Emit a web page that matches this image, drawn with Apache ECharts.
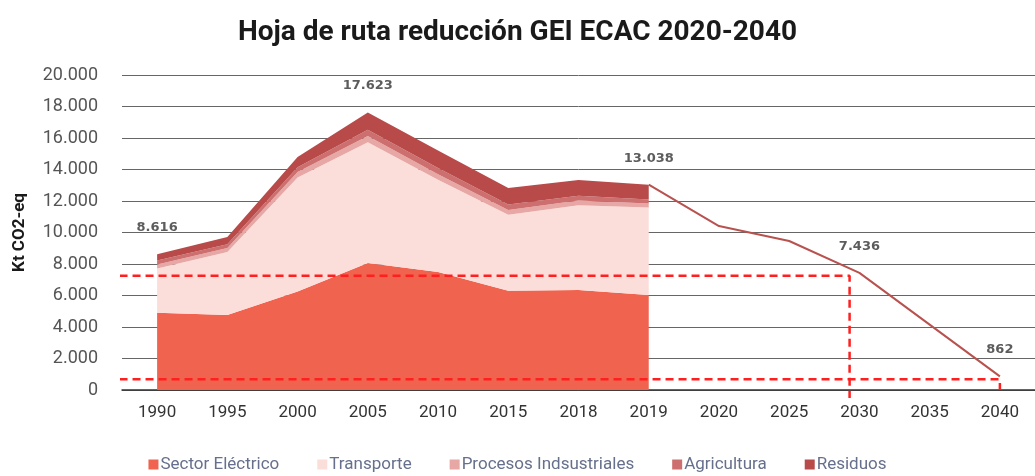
<!DOCTYPE html>
<html>
<head>
<meta charset="utf-8">
<script src="https://cdn.jsdelivr.net/npm/echarts@6/dist/echarts.min.js"></script>
<style>
  html, body { margin: 0; padding: 0; background: #fff; }
  #chart { width: 1035px; height: 476px; }
</style>
</head>
<body>
<div id="chart"></div>
<script>
// años del eje (espaciado uniforme, como en el original)
const years = ['1990', '1995', '2000', '2005', '2010', '2015', '2018', '2019', '2020', '2025', '2030', '2035', '2040'];

// emisiones históricas por sector (kt CO2-eq), 1990-2019
const electrico   = [4900, 4760, 6250, 8060, 7500, 6300, 6350, 6030];
const transporte  = [2816, 4000, 7240, 7663, 5850, 4830, 5380, 5558];
const procesos    = [250, 250, 350, 400, 350, 300, 300, 250];
const agricultura = [250, 250, 300, 400, 400, 350, 300, 250];
const residuos    = [400, 450, 650, 1100, 1100, 1050, 1000, 950];

// hoja de ruta 2019-2040
const proyeccion = ['-', '-', '-', '-', '-', '-', '-', 13038, 10410, 9460, 7436, 4150, 862];

// totales rotulados
const etiquetas = [8616, '-', '-', 17623, '-', '-', '-', 13038, '-', '-', 7436, '-', 862];

// líneas guía discontinuas (x en posición de categoría)
const guiaAlta = [[-0.72, 7250], [9.86, 7250], [9.86, -500]];
const guiaBaja = [[-0.72, 680], [12, 680], [12, 0]];

const miles = v => String(v).replace(/\B(?=(\d{3})+(?!\d))/g, '.');

const chart = echarts.init(document.getElementById('chart'));

const area = (name, data, color) => ({
  name: name,
  type: 'line',
  stack: 'total',
  data: data,
  symbol: 'none',
  lineStyle: { width: 0 },
  areaStyle: { color: color, opacity: 1 },
  itemStyle: { color: color }
});

const guia = (data) => ({
  type: 'line',
  xAxisIndex: 1,
  data: data,
  symbol: 'none',
  clip: false,
  silent: true,
  lineStyle: { color: '#ff1f1f', width: 2.5, type: [8, 5] },
  z: 5
});

chart.setOption({
  animation: false,
  title: {
    text: 'Hoja de ruta reducción GEI ECAC 2020-2040',
    left: 'center',
    top: 14,
    textStyle: { fontFamily: 'Roboto', fontSize: 28, fontWeight: 'bold', color: '#1a1a1a' }
  },
  legend: {
    top: 451,
    left: 'center',
    icon: 'rect',
    itemWidth: 10,
    itemHeight: 10,
    itemGap: 38,
    textStyle: { fontFamily: 'Roboto', fontSize: 17, color: '#66708c', padding: [0, 0, 0, -3] },
    data: ['Sector Eléctrico', 'Transporte', 'Procesos Indsustriales', 'Agricultura', 'Residuos']
  },
  grid: { left: 122, right: -5, top: 75, bottom: 86 },
  xAxis: [{
    type: 'category',
    data: years,
    boundaryGap: true,
    axisLine: { lineStyle: { color: '#333', width: 1.5 } },
    axisTick: { alignWithLabel: true, length: 6, lineStyle: { color: '#333' } },
    axisLabel: { fontFamily: 'Roboto', fontSize: 17, color: '#333', margin: 14 }
  }, {
    type: 'value',
    min: -0.5,
    max: 12.5,
    show: false
  }],
  yAxis: {
    type: 'value',
    min: 0,
    max: 20000,
    interval: 2000,
    name: 'Kt CO2-eq',
    nameLocation: 'middle',
    nameGap: 94,
    nameTextStyle: { fontFamily: 'Roboto', fontSize: 17, fontWeight: 'bold', color: '#1a1a1a' },
    axisLabel: { fontFamily: 'Roboto', fontSize: 18, color: '#555', margin: 24, formatter: miles },
    splitLine: { lineStyle: { color: '#666', width: 1 } },
    axisLine: { show: false },
    axisTick: { show: false }
  },
  series: [
    area('Sector Eléctrico', electrico, '#f0634f'),
    area('Transporte', transporte, '#fbdeda'),
    area('Procesos Indsustriales', procesos, '#e6a7a5'),
    area('Agricultura', agricultura, '#cd6f6e'),
    area('Residuos', residuos, '#b84a4a'),
    {
      name: 'Hoja de ruta',
      type: 'line',
      data: proyeccion,
      symbol: 'none',
      lineStyle: { color: '#b8524f', width: 2 },
      z: 4
    },
    {
      type: 'scatter',
      data: etiquetas,
      symbolSize: 0,
      silent: true,
      label: {
        show: true,
        position: 'top',
        distance: 20,
        fontFamily: 'DejaVu Sans',
        fontSize: 13,
        fontWeight: 'bold',
        color: '#333',
        formatter: p => miles(p.value)
      },
      z: 6
    },
    guia(guiaAlta),
    guia(guiaBaja)
  ]
});
</script>
</body>
</html>
